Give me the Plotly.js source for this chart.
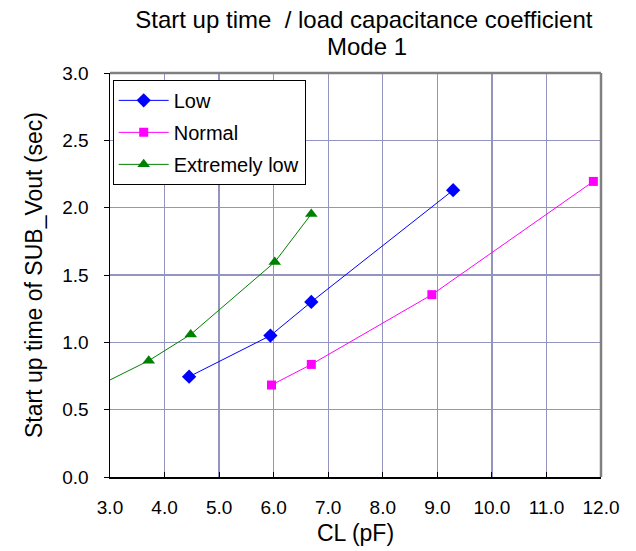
<!DOCTYPE html>
<html>
<head>
<meta charset="utf-8">
<script src="https://cdn.plot.ly/plotly-3.0.1.min.js"></script>
<style>html,body{margin:0;padding:0;background:#fff;}#chart{width:636px;height:551px;}</style>
</head>
<body>
<div id="chart"></div>
<script>
var lowX = [4.45, 5.94, 6.69, 9.29];
var lowY = [0.745, 1.05, 1.30, 2.13];
var normalX = [5.96, 6.69, 8.90, 11.86];
var normalY = [0.683, 0.836, 1.354, 2.195];
var extX = [2.6, 3.71, 4.48, 6.02, 6.69];
var extY = [0.64, 0.864, 1.059, 1.596, 1.953];
var xTicks = [3, 4, 5, 6, 7, 8, 9, 10, 11, 12];
var yTicks = [0, 0.5, 1, 1.5, 2, 2.5, 3];

var font = "'Liberation Sans', Arial, sans-serif";
var traces = [
  {x: lowX, y: lowY, name: 'Low', legendgroup: 'a', mode: 'lines+markers', type: 'scatter',
   line: {color: '#0000ff', width: 1}, marker: {symbol: 'diamond', size: 11, color: '#0000ff'}},
  {x: normalX, y: normalY, name: 'Normal', legendgroup: 'b', mode: 'lines+markers', type: 'scatter',
   line: {color: '#ff00ff', width: 1}, marker: {symbol: 'square', size: 9, color: '#ff00ff'}},
  {x: extX, y: extY, name: 'Extremely low', legendgroup: 'c', mode: 'lines+markers', type: 'scatter',
   line: {color: '#008000', width: 1}, marker: {symbol: 'triangle-up', size: 11, color: '#008000'}}
];
var layout = {
  width: 636, height: 551,
  margin: {l: 110, r: 34.5, t: 73.3, b: 73.7},
  paper_bgcolor: '#fff', plot_bgcolor: '#fff',
  font: {family: font, size: 19, color: '#000'},
  title: {text: 'Start up time  / load capacitance coefficient', xref: 'paper', x: 0.517, xanchor: 'center',
    yref: 'container', y: 1 - 20 / 551, yanchor: 'middle', font: {size: 24, family: font}},
  annotations: [
    {text: 'Mode 1', xref: 'paper', x: 0.523, xanchor: 'center', yref: 'paper', y: (477.3 - 47) / 404,
     yanchor: 'middle', showarrow: false, font: {size: 24, family: font}}
  ],
  shapes: [
    {type: 'line', xref: 'paper', yref: 'paper', x0: 0, x1: 1, y0: 1, y1: 1, line: {color: '#808080', width: 2.5}},
    {type: 'line', xref: 'paper', yref: 'paper', x0: 1, x1: 1, y0: 0, y1: 1, line: {color: '#808080', width: 2.5}}
  ],
  xaxis: {range: [3, 12], tickvals: xTicks, ticktext: xTicks.map(function(v){return v.toFixed(1);}),
    showgrid: true, gridcolor: '#9494c0', gridwidth: 1.3, zeroline: false,
    showline: true, linecolor: '#000', linewidth: 1.5,
    ticks: 'inside', ticklen: 5, tickcolor: '#000', ticklabelstandoff: 13,
    title: {text: 'CL (pF)', font: {size: 23}, standoff: 7}},
  yaxis: {range: [0, 3], tickvals: yTicks, ticktext: yTicks.map(function(v){return v.toFixed(1);}),
    showgrid: true, gridcolor: '#9494c0', gridwidth: 1.3, zeroline: false,
    showline: true, linecolor: '#000', linewidth: 1.5,
    ticks: 'outside', ticklen: 5, tickcolor: '#000', ticklabelstandoff: 11,
    title: {text: 'Start up time of SUB_Vout (sec)', font: {size: 23}, standoff: 13}},
  legend: {x: 0.0055, y: 0.983, xanchor: 'left', yanchor: 'top', bgcolor: '#fff',
    bordercolor: '#000', borderwidth: 1, font: {size: 20}, tracegroupgap: 3, itemwidth: 50},
  showlegend: true
};
Plotly.newPlot('chart', traces, layout, {displayModeBar: false, staticPlot: true});
</script>
</body>
</html>
